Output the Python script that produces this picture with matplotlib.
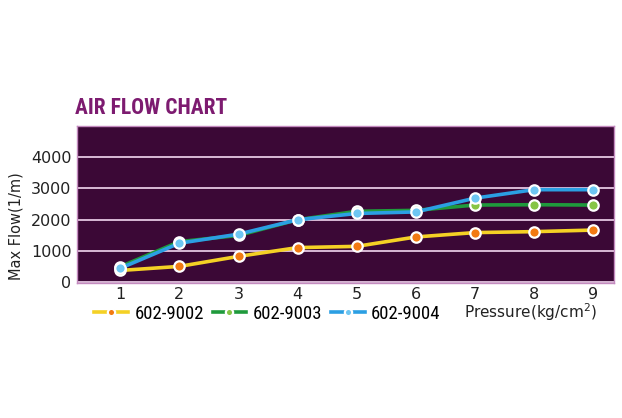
import matplotlib.pyplot as plt
from matplotlib import font_manager

pressure = [1, 2, 3, 4, 5, 6, 7, 8, 9]
flow_9002 = [380, 510, 830, 1110, 1150, 1450, 1590, 1620, 1670]
flow_9003 = [500, 1300, 1500, 2000, 2270, 2300, 2470, 2480, 2470]
flow_9004 = [450, 1250, 1540, 2000, 2200, 2250, 2690, 2960, 2960]
labels = ['602-9002', '602-9003', '602-9004']
yticks = [0, 1000, 2000, 3000, 4000]

# condensed face if one exists, else Roboto (narrowest of the installed ones)
names = {f.name for f in font_manager.fontManager.ttflist}
narrow = 'Roboto'
for cand in ['Liberation Sans Narrow', 'Roboto Condensed', 'DejaVu Sans Condensed']:
    if cand in names:
        narrow = cand
        break

fig = plt.figure(figsize=(6.22, 4.18), dpi=100)
ax = fig.add_axes([0.124, 0.323, 0.863, 0.376])
ax.set_facecolor('#3b0836')

series = [
    (flow_9002, '#f4d125', '#f27a12', 2),
    (flow_9003, '#1f9a3c', '#86c545', 3),
    (flow_9004, '#2b9fe3', '#6ec6f2', 4),
]
handles = []
for vals, lc, mc, z in series:
    h, = ax.plot(pressure, vals, color=lc, lw=2.6, marker='o', ms=7.5,
                 mfc=mc, mec='white', mew=1.6, zorder=z)
    handles.append(h)

ax.set_xlim(0.27, 9.35)
ax.set_ylim(-20, 5000)
ax.set_yticks(yticks)
ax.set_xticks(pressure)
ax.grid(axis='y', color='#d9b9d6', lw=1.4)
ax.set_axisbelow(True)
ax.tick_params(axis='y', length=0, labelsize=11.5, pad=4, colors='#222222')
ax.tick_params(axis='x', length=0, labelsize=11.5, pad=3, colors='#222222')
for s in ax.spines.values():
    s.set_color('#c48abf')
    s.set_linewidth(1)

ax.set_ylabel('Max Flow(1/m)', fontsize=10.5, color='#222222')
ax.yaxis.set_label_coords(-0.1, 0.36)
fig.text(0.12, 0.742, 'AIR FLOW CHART', color='#7d1b70', fontsize=15.5,
         fontweight='heavy', family=narrow, va='center', ha='left')
fig.text(0.853, 0.254, 'Pressure(kg/cm$^2$)', fontsize=11,
         ha='center', va='center', color='#222222')

ax.legend(handles, labels, ncol=3, frameon=False, loc='upper left',
          bbox_to_anchor=(0.018, -0.09), handlelength=1.8, handletextpad=0.35,
          columnspacing=0.45, numpoints=1, markerscale=0.7, borderaxespad=0,
          prop={'family': narrow, 'size': 13.5})

fig.savefig('out.png', dpi=100, facecolor='white')
